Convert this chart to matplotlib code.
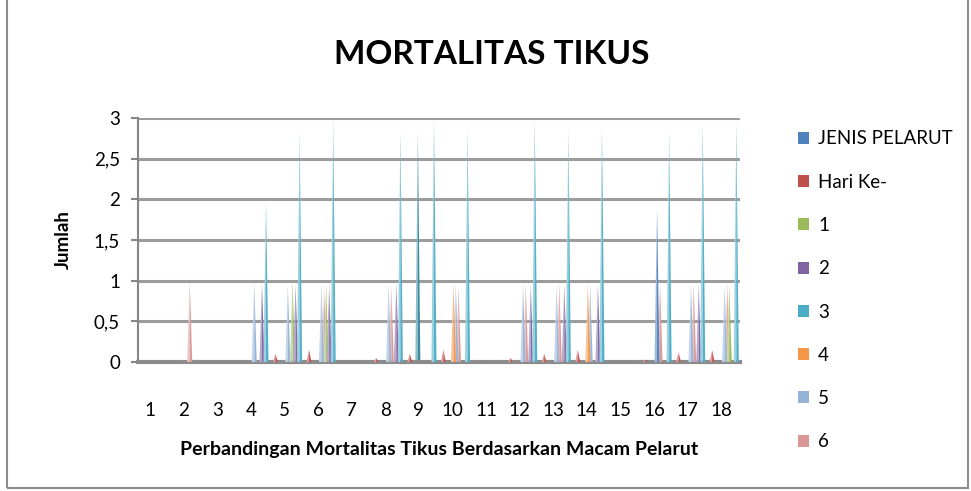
import numpy as np
import matplotlib.pyplot as plt
from matplotlib.patches import Patch, Rectangle
from matplotlib.colors import to_rgb

plt.rcParams['font.family'] = ['Lato', 'DejaVu Sans']

# kategori (nomor baris tabel)
kategori = list(range(1, 19))

# nilai tiap seri per kategori
jenis_pelarut = [0, 0, 0, 0, 0, 0, 0, 0, 0, 0, 0, 0, 0, 0, 0, 1.9, 0, 0]
hari_ke = [0, 0, 0, 0.1, 0.15, 0, 0.05, 0.1, 0.15, 0, 0.05, 0.1, 0.15, 0, 0.03, 0.12, 0.15, 0]
hari_1 = [0, 0, 0, 0, 1.0, 0.95, 0, 0, 0, 0, 0, 0, 0, 0, 0, 0, 0, 0.95]
hari_2 = [0, 0, 0, 0.97, 0.95, 0.95, 0, 0.98, 0, 0, 0, 0.95, 0.95, 0.95, 0, 0, 0.95, 0]
hari_3 = [0, 0, 0, 1.97, 2.83, 2.98, 0, 2.84, 2.99, 2.86, 0, 3.0, 2.85, 2.9, 0, 2.83, 2.93, 2.95]
hari_4 = [0, 0, 0, 0, 0, 0, 0, 0, 0, 0.97, 0, 0, 0, 0.97, 0, 0, 0, 0]
hari_5 = [0, 0, 0, 0.97, 0.95, 0.95, 0, 0.96, 0, 0.95, 0, 0.95, 0.95, 0.95, 0, 0, 0.95, 0.95]
hari_6 = [0, 0.98, 0, 0, 0, 0.9, 0, 0.93, 0, 0.93, 0, 0.97, 0.98, 0, 0, 0.97, 0.97, 0.97]
hari_3_belakang = [0, 0, 0, 0, 0, 0, 0, 0, 2.82, 0, 0, 0, 0, 0, 0, 0, 0, 0]

nama_seri = ['JENIS PELARUT', 'Hari Ke-', '1', '2', '3', '4', '5', '6']
nilai_seri = [jenis_pelarut, hari_ke, hari_1, hari_2, hari_3, hari_4, hari_5, hari_6]
warna = ['#4F81BD', '#C0504D', '#9BBB59', '#8064A2', '#4BACC6', '#F79646', '#95B3D7', '#D99694']
# geseran tiap seri di dalam kategori
geser = [0.09, 0.73, 0.24, 0.33, 0.45, 0.03, 0.10, 0.18]
urutan = [7, 6, 5, 0, 2, 3, 1, 4]


def lighten(c, f):
    r, g, b = to_rgb(c)
    return (r + (1 - r) * f, g + (1 - g) * f, b + (1 - b) * f)


def spike(ax, x, v, c, w=0.075, z=3):
    if v <= 0:
        return
    ax.fill([x - w, x, x], [0, v, 0], color=lighten(c, 0.45), lw=0, zorder=z)
    ax.fill([x, x + w, x], [v, 0, 0], color=lighten(c, 0.05), lw=0, zorder=z)


fig = plt.figure(figsize=(9.71, 4.91), dpi=100)
ax = fig.add_axes([138 / 971, 1 - 362 / 491, 602 / 971, 244 / 491])

for k, v in zip(kategori, hari_3_belakang):
    spike(ax, k - 0.03, v, '#31859C', z=2)

for i in urutan:
    for k, v in zip(kategori, nilai_seri[i]):
        spike(ax, k + geser[i], v, warna[i])

ax.set_xlim(0.64, 18.56)
ax.set_ylim(0, 3)
ax.set_yticks(np.arange(0, 3.01, 0.5))
ax.set_yticklabels(['0', '0,5', '1', '1,5', '2', '2,5', '3'])
ax.set_xticks(kategori)
ax.set_xticklabels([str(k) for k in kategori])
ax.tick_params(axis='x', length=0, pad=29, labelsize=13.5)
ax.tick_params(axis='y', length=5, width=1.5, color='#868686', pad=8, labelsize=13.5)
ax.grid(axis='y', color='#9C9C9C', lw=2.2, zorder=1)
ax.set_axisbelow(True)
for s in ['top', 'right']:
    ax.spines[s].set_visible(False)
ax.spines['left'].set_color('#868686')
ax.spines['left'].set_linewidth(1.5)
ax.spines['bottom'].set_color('#8C8C8C')
ax.spines['bottom'].set_linewidth(3)

ax.set_ylabel('Jumlah', fontsize=13.5, fontweight='bold', labelpad=16)
ax.set_xlabel('Perbandingan Mortalitas Tikus Berdasarkan Macam Pelarut',
              fontsize=14, fontweight='bold', labelpad=16)
fig.text(492 / 971, 1 - 55 / 491, 'MORTALITAS TIKUS', ha='center', va='center',
         fontsize=24, fontweight='bold')

handles = [Patch(facecolor=c, edgecolor='none') for c in warna]
fig.legend(handles, nama_seri, loc='upper left', bbox_to_anchor=(790 / 971, 1 - 123 / 491),
           frameon=False, fontsize=13.5, handlelength=0.6, handleheight=0.6,
           handletextpad=0.5, labelspacing=1.4, borderaxespad=0)

# bingkai luar
fig.patches.append(Rectangle((7 / 971, 3 / 491), 961 / 971, 1.2, transform=fig.transFigure,
                             fill=False, edgecolor='#8C8C8C', lw=1.5))

fig.savefig('out.png', dpi=100)
